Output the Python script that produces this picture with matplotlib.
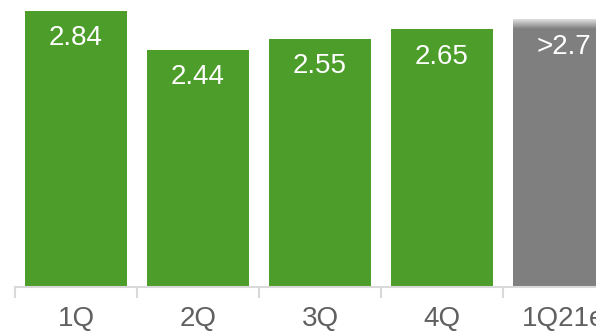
import numpy as np
import matplotlib
matplotlib.use("Agg")
import matplotlib.pyplot as plt
from matplotlib.colors import LinearSegmentedColormap

categories = ["1Q", "2Q", "3Q", "4Q", "1Q21e"]
values = [2.84, 2.44, 2.55, 2.65, 2.75]
labels = ["2.84", "2.44", "2.55", "2.65", ">2.7"]
colors = ["#4C9D2A", "#4C9D2A", "#4C9D2A", "#4C9D2A", "#7F7F7F"]

plt.rcParams['font.family'] = ['Liberation Sans', 'DejaVu Sans']

fig = plt.figure(figsize=(5.96, 3.31), dpi=100)
W, H = 596, 331
left_px, right_px = 15, 15 + 5 * 122
bottom_px = 287
ax = fig.add_axes([left_px / W, (H - bottom_px) / H, (right_px - left_px) / W, bottom_px / H])

x = np.arange(len(categories))
bars = ax.bar(x, values, width=0.835, color=colors, zorder=2)

ax.set_xlim(-0.5, len(categories) - 0.5)
ax.set_ylim(0, 2.953)

# gradient fade on top of estimate bar
b = bars[-1]
grad = np.linspace(0, 1, 50).reshape(-1, 1)
cmap = LinearSegmentedColormap.from_list("fade", ["#7F7F7F", "#E0E0E0"])
ax.imshow(grad, extent=[b.get_x(), b.get_x() + b.get_width(), values[-1] - 0.1, values[-1]],
          origin="lower", aspect="auto", cmap=cmap, zorder=3)

for xi, v, lab in zip(x, values, labels):
    ax.annotate(lab, (xi, v), xytext=(0, -19.5), textcoords="offset points",
                ha="center", va="center", color="white", fontsize=20, zorder=4)

for s in ["top", "right", "left"]:
    ax.spines[s].set_visible(False)
ax.spines["bottom"].set_color("#D9D9D9")
ax.spines["bottom"].set_linewidth(1.5)
ax.set_yticks([])
ax.set_xticks(x)
ax.set_xticklabels(categories, fontsize=20, color="#606060")
ax.tick_params(axis="x", which="major", length=0, pad=14)
ax.set_xticks(np.arange(-0.5, len(categories), 1.0), minor=True)
ax.tick_params(axis="x", which="minor", length=8, width=1.5, color="#D9D9D9")

fig.savefig("out.png", dpi=100)
